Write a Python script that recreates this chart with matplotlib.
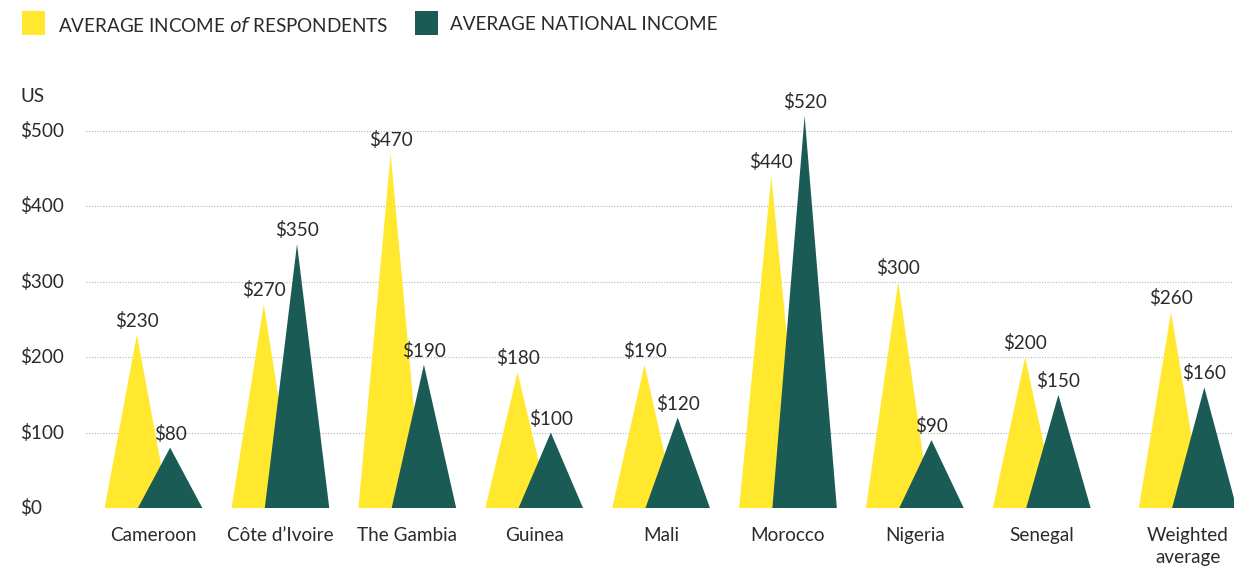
import numpy as np
import matplotlib
matplotlib.use("Agg")
import matplotlib.pyplot as plt
import matplotlib.transforms as mtransforms
from matplotlib.patches import Polygon, Rectangle

plt.rcParams["font.family"] = ["Lato", "DejaVu Sans"]

# -----------------------
# Data
# -----------------------
countries = ["Cameroon", "Côte d\u2019Ivoire", "The Gambia", "Guinea", "Mali",
             "Morocco", "Nigeria", "Senegal", "Weighted\naverage"]
respondents = [230, 270, 470, 180, 190, 440, 300, 200, 260]
national = [80, 350, 190, 100, 120, 520, 90, 150, 160]
y_ticks = [0, 100, 200, 300, 400, 500]

YELLOW = "#FFE82E"
GREEN = "#1B5B56"
TEXT = "#2b2b2b"
FS = 13.6

# positions: last category sits a bit further right
pos = np.arange(len(countries), dtype=float)
pos[-1] += 0.15
half = 0.254
shift = 0.131

fig = plt.figure(figsize=(12.34, 5.68), dpi=100)
ax = fig.add_axes([86 / 1234, 60 / 568, 1146 / 1234, 408 / 568])
ax.set_xlim(-0.532, 8.499)
ax.set_ylim(0, 408 / 75.4 * 100)
ax.axis("off")

# gridlines
for t in y_ticks:
    ax.axhline(t, color="#b5b5b5", lw=0.8, ls=(0, (1, 1.5)), zorder=0)

# y tick labels, left aligned at the figure edge
ytrans = mtransforms.blended_transform_factory(fig.transFigure, ax.transData)
for t in y_ticks:
    ax.text(20 / 1234, t, f"${t}", transform=ytrans, ha="left", va="center",
            fontsize=FS, color=TEXT)
fig.text(20 / 1234, 1 - 97 / 568, "US", ha="left", va="center",
         fontsize=FS, color=TEXT)


def triangle(x, h, color):
    ax.add_patch(Polygon([[x - half, 0], [x, h], [x + half, 0]],
                         closed=True, facecolor=color, edgecolor="none",
                         clip_on=False))


for x, r, n in zip(pos, respondents, national):
    triangle(x - shift, r, YELLOW)
    triangle(x + shift, n, GREEN)

off = 5 / 75.4 * 100
for x, r, n in zip(pos, respondents, national):
    ax.text(x - shift, r + off, f"${r}", ha="center", va="bottom",
            fontsize=FS, color=TEXT, clip_on=False)
    ax.text(x + shift, n + off, f"${n}", ha="center", va="bottom",
            fontsize=FS, color=TEXT, clip_on=False)

# category labels
for x, name in zip(pos, countries):
    ax.text(x, -25, name, ha="center", va="top", fontsize=FS,
            color=TEXT, linespacing=1.35, clip_on=False)

# legend
W, H = 1234, 568
fig.patches.append(Rectangle((22 / W, 1 - 35 / H), 23 / W, 24 / H,
                             transform=fig.transFigure, facecolor=YELLOW,
                             edgecolor="none"))
fig.text(58 / W, 1 - 25 / H, "AVERAGE INCOME $\\it{of}$ RESPONDENTS",
         ha="left", va="center", fontsize=FS, color=TEXT)
fig.patches.append(Rectangle((415 / W, 1 - 35 / H), 23 / W, 24 / H,
                             transform=fig.transFigure, facecolor=GREEN,
                             edgecolor="none"))
fig.text(450 / W, 1 - 25 / H, "AVERAGE NATIONAL INCOME",
         ha="left", va="center", fontsize=FS, color=TEXT)

fig.savefig("out.png", dpi=100)
